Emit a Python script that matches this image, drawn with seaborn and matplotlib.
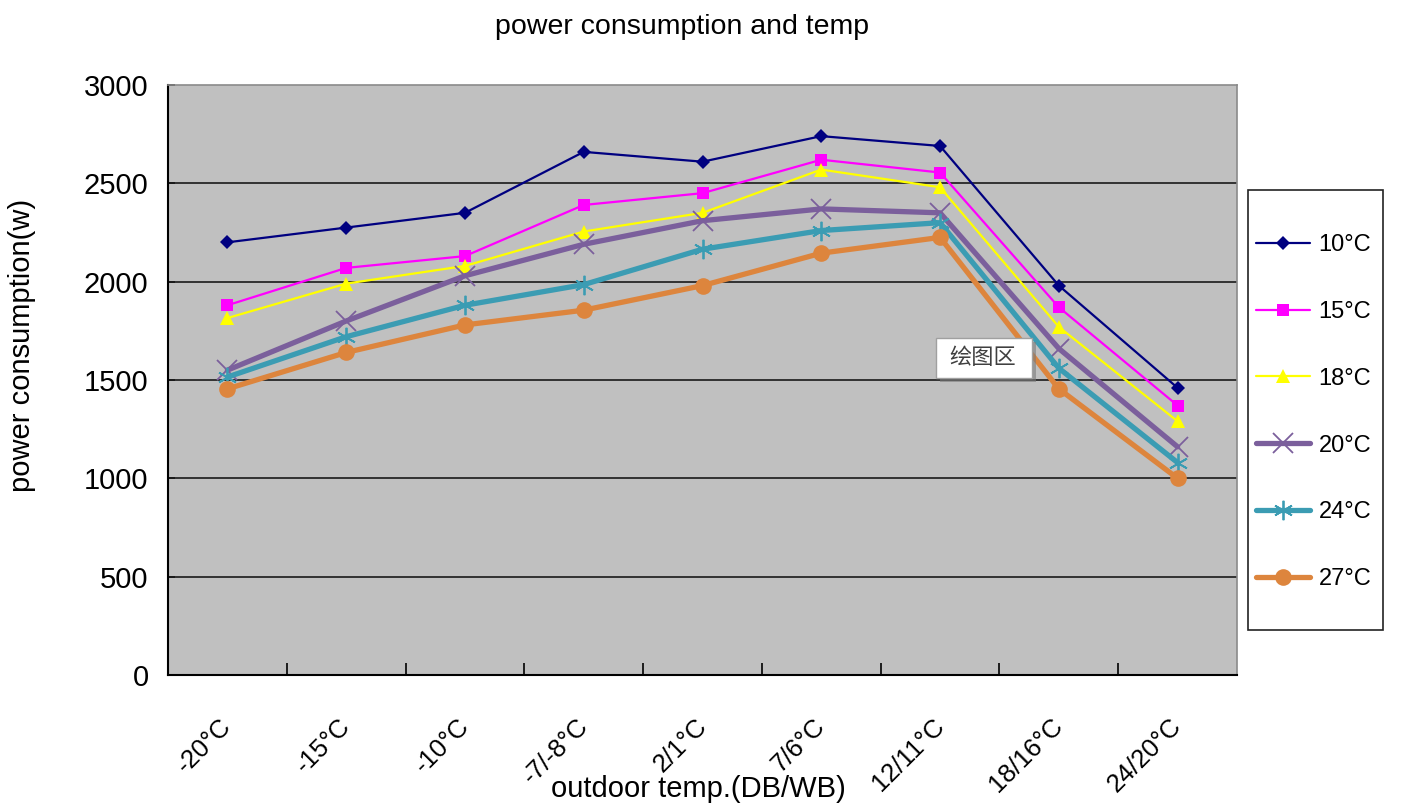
import matplotlib
matplotlib.use("Agg")
import matplotlib.pyplot as plt
from matplotlib.patches import Rectangle
from matplotlib.transforms import ScaledTranslation
import seaborn as sns

# outdoor conditions (DB/WB)
categories = ["-20°C", "-15°C", "-10°C", "-7/-8°C", "2/1°C", "7/6°C", "12/11°C", "18/16°C", "24/20°C"]

# power consumption (W) per indoor setpoint
p10 = [2200, 2275, 2350, 2660, 2610, 2740, 2690, 1980, 1460]
p15 = [1880, 2070, 2130, 2390, 2450, 2620, 2555, 1870, 1370]
p18 = [1815, 1990, 2080, 2255, 2350, 2570, 2480, 1770, 1290]
p20 = [1550, 1800, 2030, 2190, 2310, 2370, 2350, 1660, 1160]
p24 = [1515, 1720, 1880, 1985, 2165, 2260, 2300, 1560, 1080]
p27 = [1455, 1640, 1780, 1855, 1980, 2145, 2225, 1455, 1000]

series_labels = ["10°C", "15°C", "18°C", "20°C", "24°C", "27°C"]
series_values = [p10, p15, p18, p20, p24, p27]

yticks = [0, 500, 1000, 1500, 2000, 2500, 3000]

sns.set_theme(style="white")
plt.rcParams["font.family"] = ["Liberation Sans", "DejaVu Sans"]
plt.rcParams["text.color"] = "black"
plt.rcParams["xtick.color"] = "black"
plt.rcParams["ytick.color"] = "black"

styles = [
    dict(color="#000080", lw=1.6, marker="D", ms=7, mew=0),
    dict(color="#FF00FF", lw=1.6, marker="s", ms=9, mew=0),
    dict(color="#FFFF00", lw=1.6, marker="^", ms=10, mew=0),
    dict(color="#7B5F9C", lw=3.8, marker="x", ms=14, mew=1.3),
    dict(color="#3B9CB3", lw=3.8, marker=(6, 2, 0), ms=14, mew=1.3),
    dict(color="#DD853D", lw=3.8, marker="o", ms=12, mew=0),
]

fig = plt.figure(figsize=(14.27, 8.06), dpi=100)
ax = fig.add_axes([168 / 1427, 1 - 675 / 806, (1237 - 168) / 1427, (675 - 85) / 806])
ax.set_facecolor("#C0C0C0")

xpos = list(range(len(categories)))
handles = []
for label, vals, st in zip(series_labels, series_values, styles):
    sns.lineplot(x=xpos, y=vals, ax=ax, color=st["color"], linewidth=st["lw"],
                 marker=st["marker"], markersize=st["ms"], markeredgewidth=st["mew"],
                 markeredgecolor=st["color"], markerfacecolor=st["color"], label=label,
                 legend=False, zorder=3)
    handles.append(ax.lines[-1])

ax.set_xlim(-0.5, len(categories) - 0.5)
ax.set_ylim(0, 3000)
ax.set_yticks(yticks)
ax.set_yticklabels([str(v) for v in yticks], fontsize=21, color="black")
for v in yticks[1:-1]:
    ax.axhline(v, color="#1a1a1a", lw=1.2, zorder=1)

# category ticks sit on the boundaries; labels sit under each category
ax.set_xticks([i + 0.5 for i in range(len(categories) - 1)])
ax.set_xticklabels([])
ax.set_xticks(xpos, minor=True)
ax.set_xticklabels(categories, minor=True, rotation=45, ha="right",
                   rotation_mode="anchor", fontsize=18.5, color="black")
ax.tick_params(axis="x", which="major", direction="in", length=9, width=1.2, color="black", bottom=True)
ax.tick_params(axis="x", which="minor", length=0, pad=28)
ax.tick_params(axis="y", direction="in", length=5, width=1.2, color="black", left=True, pad=14)
shift = ScaledTranslation(-8 / 100, 0, fig.dpi_scale_trans)
for t in ax.get_xticklabels(minor=True):
    t.set_transform(t.get_transform() + shift)

for side in ["left", "bottom"]:
    ax.spines[side].set_color("black")
    ax.spines[side].set_linewidth(1.5)
for side in ["top", "right"]:
    ax.spines[side].set_color("#8a8a8a")
    ax.spines[side].set_linewidth(1.2)

fig.text(682 / 1427, 1 - 27 / 806, "power consumption and temp", ha="center", va="center", fontsize=20.5)
fig.text(698 / 1427, 1 - 789 / 806, "outdoor temp.(DB/WB)", ha="center", va="center", fontsize=21)
fig.text(22 / 1427, 1 - 345 / 806, "power consumption(w)", ha="center", va="center",
         rotation=90, fontsize=21)

# legend frame
fig.patches.append(Rectangle((1248 / 1427, 1 - 630 / 806), 135 / 1427, 440 / 806,
                             transform=fig.transFigure, facecolor="white",
                             edgecolor="#222222", lw=1.2))
fig.legend(handles, series_labels, loc="upper left",
           bbox_to_anchor=(1256 / 1427, 1 - 234 / 806), frameon=False,
           fontsize=17, handlelength=2.3, handletextpad=0.35, labelspacing=1.9,
           borderpad=0, borderaxespad=0)

# plot-area tooltip
fig.patches.append(Rectangle((940 / 1427, 1 - 382 / 806), 96 / 1427, 40 / 806,
                             transform=fig.transFigure, facecolor="#7a7a7a",
                             edgecolor="none", alpha=0.6, zorder=5))
fig.patches.append(Rectangle((936 / 1427, 1 - 378 / 806), 96 / 1427, 40 / 806,
                             transform=fig.transFigure, facecolor="white",
                             edgecolor="#a0a0a0", lw=1, zorder=6))
fig.text(983 / 1427, 1 - 358 / 806, "绘图区", ha="center", va="center", fontsize=16,
         color="#404040", family=["Noto Sans CJK SC", "DejaVu Sans"], zorder=7)

fig.savefig("out.png", dpi=100)
